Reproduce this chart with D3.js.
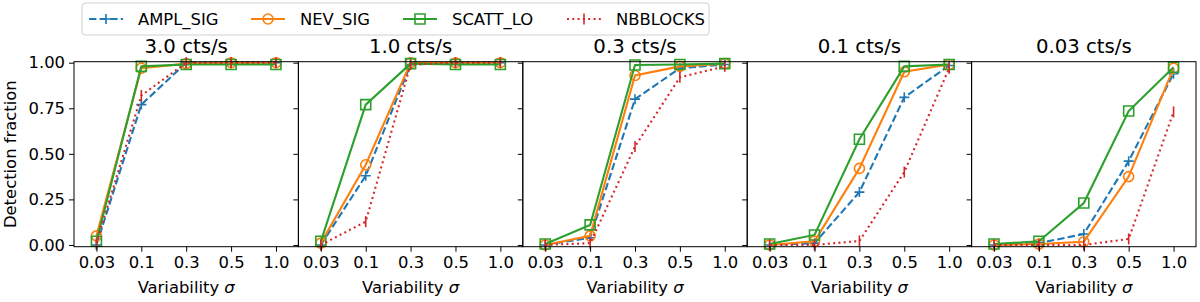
<!DOCTYPE html>
<html>
<head>
<meta charset="utf-8">
<style>
  body { margin: 0; background: #fff; }
  svg { display: block; font-family: "DejaVu Sans", sans-serif; }
  .axis text { font-family: "DejaVu Sans", sans-serif; font-size: 16.4px; fill: #000; }
  .axis path, .axis line { stroke: #000; stroke-width: 1; }
</style>
</head>
<body>
<svg class="chart" width="1200" height="302"></svg>
<script src="https://d3js.org/d3.v7.min.js"></script>
<script>
// categories on the x axis (variability sigma)
var sigmas = ["0.03", "0.1", "0.3", "0.5", "1.0"];
// one panel per count rate
var rates = ["3.0 cts/s", "1.0 cts/s", "0.3 cts/s", "0.1 cts/s", "0.03 cts/s"];
var yTicks = [0, 0.25, 0.5, 0.75, 1.0];
var seriesNames = ["AMPL_SIG", "NEV_SIG", "SCATT_LO", "NBBLOCKS"];

// detection fraction, one row per panel (rate), one value per sigma
var amplSig = [
  [0.00, 0.77, 1.00, 1.00, 1.00],
  [0.00, 0.38, 0.99, 1.00, 1.00],
  [0.00, 0.04, 0.80, 0.97, 0.99],
  [0.00, 0.01, 0.29, 0.81, 0.985],
  [0.00, 0.01, 0.06, 0.46, 0.94]
];
var nevSig = [
  [0.05, 0.97, 0.995, 1.00, 1.00],
  [0.01, 0.44, 1.00, 1.00, 1.00],
  [0.00, 0.05, 0.93, 0.98, 0.995],
  [0.00, 0.02, 0.42, 0.95, 0.99],
  [0.00, 0.005, 0.018, 0.375, 0.97]
];
var scattLo = [
  [0.02, 0.98, 0.99, 0.99, 0.99],
  [0.02, 0.77, 0.995, 0.99, 0.99],
  [0.005, 0.11, 0.987, 0.99, 0.995],
  [0.005, 0.055, 0.58, 0.98, 0.99],
  [0.005, 0.02, 0.23, 0.735, 0.975]
];
var nbBlocks = [
  [0.01, 0.82, 1.00, 1.00, 1.00],
  [0.00, 0.128, 0.99, 1.00, 1.00],
  [0.00, 0.01, 0.54, 0.92, 0.98],
  [0.00, 0.00, 0.022, 0.40, 0.97],
  [0.00, 0.00, 0.00, 0.033, 0.73]
];

var seriesData = [amplSig, nevSig, scattLo, nbBlocks];
var colors = ["#1f77b4", "#ff7f0e", "#2ca02c", "#d62728"];
var dashes = ["7.4,3.2", null, null, "2,3.3"];
var markers = [
  "M-5,0H5M0,-5V5",
  "M5,0A5,5 0 1,1 -5,0A5,5 0 1,1 5,0",
  "M-5,-5H5V5H-5Z",
  "M0,-5.5V5.5"
];

var marginLeft = 74, marginTop = 61.7, panelW = 224.4, panelH = 185;

var chart = d3.select('.chart');

var x = d3.scalePoint()
  .domain(sigmas)
  .range([0, panelW])
  .padding(0.5);

var y = d3.scaleLinear()
  .domain([-0.0095, 1.0055])
  .range([panelH, 0]);

var line = d3.line()
  .x(function(d, i) { return x(sigmas[i]); })
  .y(function(d) { return y(d); });

rates.forEach(function(rate, p) {
  var g = chart.append('g')
    .attr('transform', 'translate(' + (marginLeft + p * panelW) + ',' + marginTop + ')');

  seriesData.forEach(function(series, s) {
    var vals = series[p];
    g.append('path')
      .attr('d', line(vals))
      .attr('fill', 'none')
      .attr('stroke', colors[s])
      .attr('stroke-width', 2.1)
      .attr('stroke-dasharray', dashes[s]);

    g.selectAll('.m' + s)
      .data(vals)
      .enter()
      .append('path')
      .attr('class', 'm' + s)
      .attr('transform', function(d, i) { return 'translate(' + x(sigmas[i]) + ',' + y(d) + ')'; })
      .attr('d', markers[s])
      .attr('fill', 'none')
      .attr('stroke', colors[s])
      .attr('stroke-width', 1.6);
  });

  g.append('rect')
    .attr('width', panelW).attr('height', panelH)
    .attr('fill', 'none')
    .attr('stroke', '#000')
    .attr('stroke-width', 1);

  var xAxis = g.append('g')
    .attr('class', 'axis')
    .attr('transform', 'translate(0,' + panelH + ')')
    .call(d3.axisBottom(x).tickSize(5).tickPadding(5));
  xAxis.select('.domain').remove();

  var yAxis = g.append('g')
    .attr('class', 'axis')
    .call(d3.axisLeft(y).tickValues(yTicks).tickSize(5).tickPadding(4)
      .tickFormat(p === 0 ? d3.format('.2f') : function() { return ''; }));
  yAxis.select('.domain').remove();

  g.append('text')
    .attr('x', panelW / 2)
    .attr('y', -9)
    .attr('text-anchor', 'middle')
    .style('font-size', '19.7px')
    .text(rate);

  var xl = g.append('text')
    .attr('x', panelW / 2)
    .attr('y', panelH + 46)
    .attr('text-anchor', 'middle')
    .style('font-size', '16.4px')
    .text('Variability ');
  xl.append('tspan').style('font-style', 'italic').text('σ');
});

chart.append('text')
  .attr('transform', 'translate(16,' + (marginTop + panelH / 2) + ') rotate(-90)')
  .attr('text-anchor', 'middle')
  .style('font-size', '16.4px')
  .text('Detection fraction');

// legend
var legend = chart.append('g').attr('transform', 'translate(82,3)');
legend.append('rect')
  .attr('width', 627).attr('height', 32)
  .attr('rx', 3)
  .attr('fill', '#fff')
  .attr('stroke', '#d0d0d0')
  .attr('stroke-width', 1);

var legendX = [7, 169, 321, 485];
seriesNames.forEach(function(name, s) {
  var item = legend.append('g').attr('transform', 'translate(' + legendX[s] + ',16)');
  item.append('line')
    .attr('x1', 0).attr('x2', 34)
    .attr('stroke', colors[s])
    .attr('stroke-width', 2.1)
    .attr('stroke-dasharray', dashes[s]);
  item.append('path')
    .attr('transform', 'translate(17,0)')
    .attr('d', markers[s])
    .attr('fill', 'none')
    .attr('stroke', colors[s])
    .attr('stroke-width', 1.6);
  item.append('text')
    .attr('x', 49)
    .attr('dy', '0.35em')
    .style('font-size', '16.4px')
    .text(name);
});
</script>
</body>
</html>
